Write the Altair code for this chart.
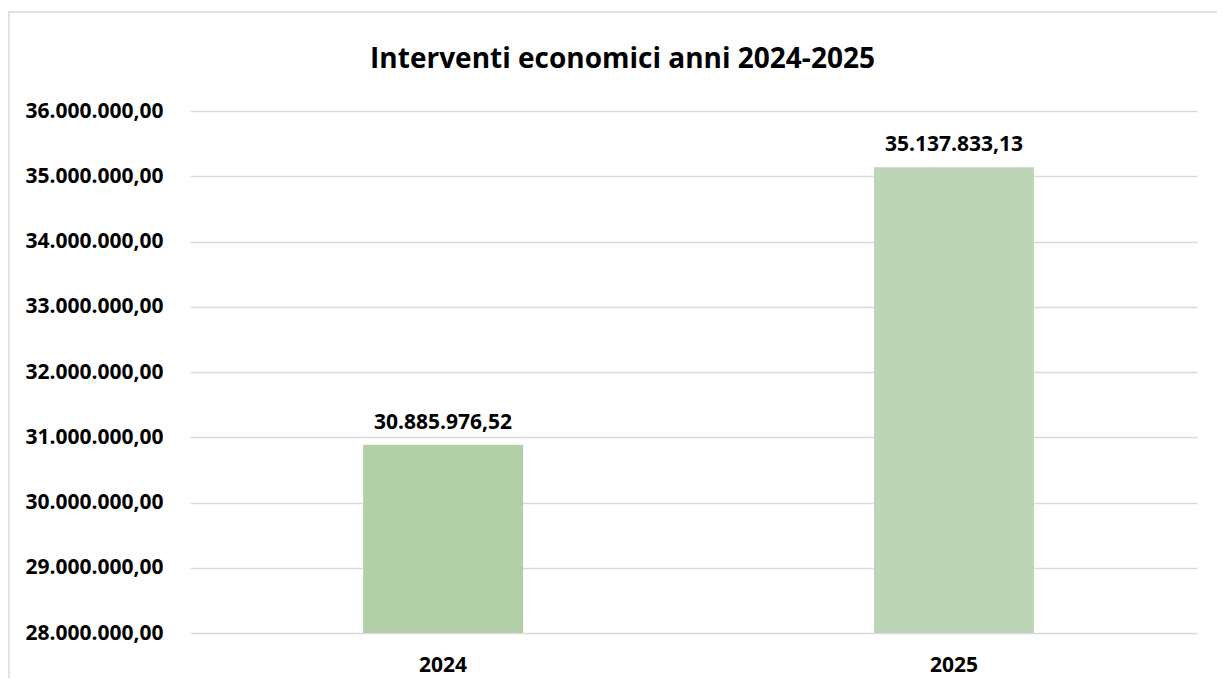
import altair as alt
import pandas as pd

years = ["2024", "2025"]
values = [30885976.52, 35137833.13]
bar_colors = ["#b3cfa7", "#bdd5b5"]
y_ticks = [28000000, 29000000, 30000000, 31000000, 32000000, 33000000, 34000000, 35000000, 36000000]
title_text = "Interventi economici anni 2024-2025"

df = pd.DataFrame({"anno": years, "valore": values})

FONT = "Open Sans"
W, H = 1007, 522

base = alt.Chart(df)

frame = alt.Chart(pd.DataFrame({"a": [0]})).mark_rect(
    fill=None, stroke="#d9d9d9", strokeWidth=1.5
).encode(
    x=alt.value(-181), x2=alt.value(W + 60),
    y=alt.value(-99), y2=alt.value(H + 80)
)

bars = base.mark_bar(clip=True).encode(
    x=alt.X("anno:N", sort=years,
            scale=alt.Scale(paddingInner=0.687, paddingOuter=0.329, align=0.515),
            axis=alt.Axis(title=None, labelAngle=0, labelFont=FONT, labelFontWeight="bold",
                          labelFontSize=21, labelColor="#000000", labelPadding=21,
                          ticks=False, domain=False, grid=False)),
    y=alt.Y("valore:Q",
            scale=alt.Scale(domain=[28000000, 36000000], nice=False, zero=False),
            axis=alt.Axis(title=None, values=y_ticks, format=",.2f", labelFont=FONT,
                          labelFontWeight="bold", labelFontSize=21, labelColor="#000000",
                          labelPadding=27, ticks=False, domain=False,
                          gridColor="#d9d9d9", gridWidth=1.5)),
    color=alt.Color("anno:N", scale=alt.Scale(domain=years, range=bar_colors), legend=None),
)

labels = base.mark_text(
    baseline="alphabetic", dy=-16, font=FONT, fontWeight="bold", fontSize=21, color="#000000"
).encode(
    x=alt.X("anno:N", sort=years),
    y=alt.Y("valore:Q"),
    text=alt.Text("valore:Q", format=",.2f"),
)

chart = alt.layer(frame, bars, labels).properties(
    width=W, height=H,
    title=alt.TitleParams(title_text, font=FONT, fontSize=28, fontWeight="bold",
                          color="#000000", anchor="middle", dx=-71, offset=0, dy=63),
    autosize=alt.AutoSizeParams(type="none"),
    padding={"left": 182, "top": 103, "right": 20, "bottom": 45},
).configure(
    locale=alt.Locale(number=alt.NumberLocale(decimal=",", thousands=".", grouping=[3],
                                              currency=["", "€"]))
).configure_view(stroke=None)

chart.save("out.html", embed_options={"renderer": "svg", "actions": False})
